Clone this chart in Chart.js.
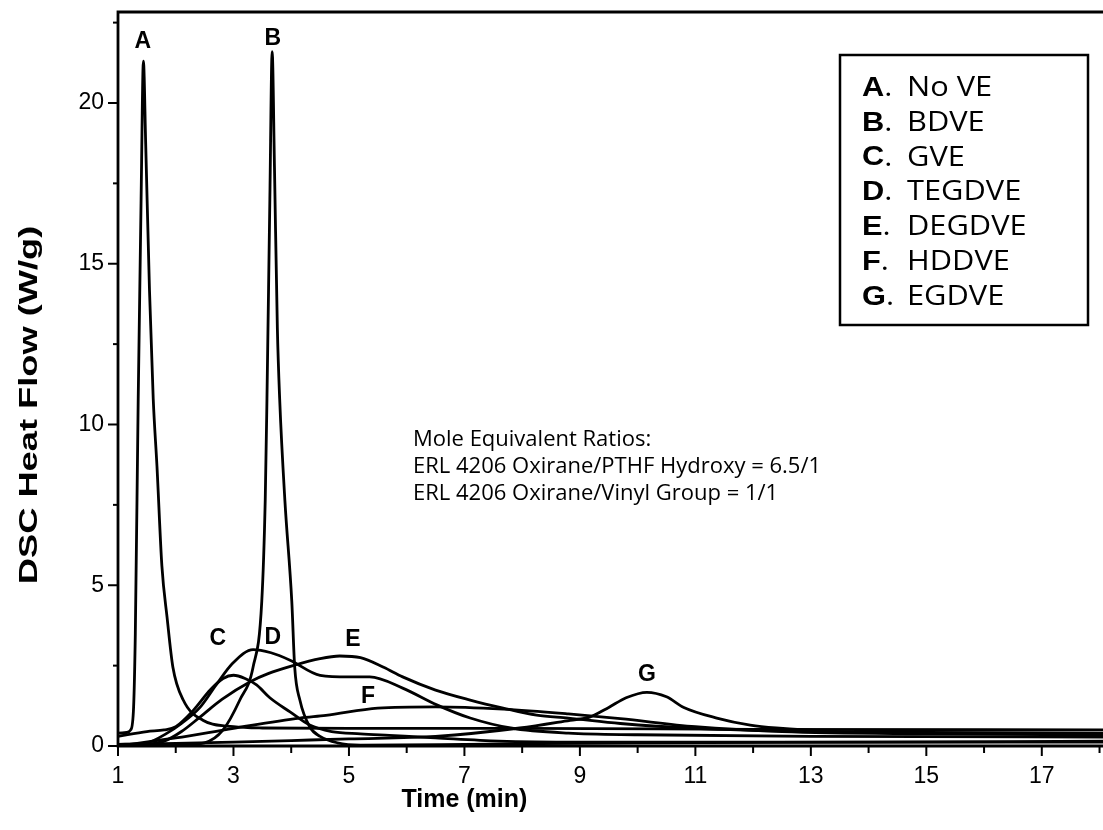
<!DOCTYPE html>
<html>
<head>
<meta charset="utf-8">
<script src="https://cdn.jsdelivr.net/npm/chart.js@4.4.1/dist/chart.umd.min.js"></script>
<style>
  html, body { margin: 0; padding: 0; background: #fff; overflow: hidden; }
  #wrap { width: 1103px; height: 830px; position: relative; }
</style>
</head>
<body>
<div id="wrap"><canvas id="dsc"></canvas></div>
<script>
// time (min) / heat flow (W/g), one pair per curve
const timeA = [1.0, 1.15, 1.22, 1.27, 1.30, 1.35, 1.40, 1.44, 1.48, 1.545, 1.61, 1.675, 1.76, 1.85, 1.95, 2.13, 2.47, 3.0, 3.5, 5, 8, 12, 18.1];
const flowA = [0.4, 0.42, 0.5, 1.2, 3.5, 10.8, 17, 21.3, 18.7, 14.2, 10.8, 8.7, 5.6, 4.0, 2.46, 1.43, 0.8, 0.6, 0.56, 0.55, 0.55, 0.52, 0.5];

const timeB = [1.0, 2.0, 2.5, 2.82, 3.11, 3.34, 3.49, 3.55, 3.58, 3.63, 3.67, 3.71, 3.76, 3.8, 3.89, 4.01, 4.06, 4.15, 4.32, 4.5, 4.8, 5.2, 7, 10, 14, 18.1];
const flowB = [0, 0.02, 0.1, 0.5, 1.43, 2.46, 4.5, 7.65, 10.8, 17, 21.6, 18, 13, 10.8, 7.65, 4.5, 2.46, 1.43, 0.6, 0.3, 0.1, 0.03, 0.05, 0.1, 0.12, 0.15];

const timeC = [1.0, 1.5, 1.8, 2.0, 2.3, 2.6, 2.82, 3.0, 3.2, 3.4, 3.63, 3.98, 4.32, 4.7, 5.2, 5.7, 6.5, 7.6, 9, 12, 18.1];
const flowC = [0.3, 0.45, 0.5, 0.6, 1.1, 1.75, 2.1, 2.2, 2.1, 1.9, 1.5, 1.06, 0.65, 0.45, 0.38, 0.33, 0.25, 0.15, 0.12, 0.12, 0.12];

const timeD = [1.0, 1.5, 1.85, 2.1, 2.42, 2.7, 2.99, 3.34, 3.65, 3.98, 4.5, 5.0, 5.36, 5.93, 6.52, 7.1, 7.8, 8.8, 10, 13, 18.1];
const flowD = [0.05, 0.1, 0.4, 0.7, 1.2, 1.9, 2.58, 3.0, 2.9, 2.67, 2.2, 2.15, 2.15, 1.8, 1.28, 0.87, 0.56, 0.4, 0.35, 0.3, 0.28];

const timeE = [1.0, 1.5, 1.8, 2.1, 2.42, 2.8, 3.29, 3.6, 4.03, 4.5, 4.84, 5.2, 5.6, 5.93, 6.5, 7.1, 7.67, 8.25, 8.8, 9.7, 11, 13, 15, 18.1];
const flowE = [0, 0.05, 0.15, 0.45, 0.9, 1.45, 2.0, 2.25, 2.5, 2.72, 2.8, 2.75, 2.45, 2.15, 1.74, 1.43, 1.18, 0.96, 0.87, 0.7, 0.55, 0.45, 0.42, 0.4];

const timeF = [1.0, 2.0, 3.0, 4.15, 4.6, 5.5, 6.5, 7.67, 8.8, 9.7, 11, 12.5, 15, 18.1];
const flowF = [0, 0.25, 0.55, 0.87, 0.95, 1.18, 1.22, 1.15, 1.0, 0.85, 0.6, 0.45, 0.38, 0.35];

const timeG = [1.0, 2.0, 3.0, 4.0, 5.0, 6.5, 7.96, 8.83, 9.17, 9.5, 9.8, 10.16, 10.5, 10.8, 11.37, 11.95, 12.4, 13.5, 15, 18.1];
const flowG = [0.05, 0.08, 0.12, 0.17, 0.22, 0.3, 0.56, 0.8, 0.9, 1.2, 1.5, 1.67, 1.53, 1.2, 0.87, 0.65, 0.56, 0.45, 0.4, 0.38];

const seriesKeys = ['A', 'B', 'C', 'D', 'E', 'F', 'G'];
const seriesNames = ['No VE', 'BDVE', 'GVE', 'TEGDVE', 'DEGDVE', 'HDDVE', 'EGDVE'];
const seriesTimes = [timeA, timeB, timeC, timeD, timeE, timeF, timeG];
const seriesFlows = [flowA, flowB, flowC, flowD, flowE, flowF, flowG];

// where the curve letters sit, in axis units
const peakTagTime = [1.43, 3.68, 2.73, 3.68, 5.07, 5.33, 10.16];
const peakTagFlow = [21.9, 22.0, 3.33, 3.36, 3.30, 1.52, 2.21];

const xTicks = [1, 3, 5, 7, 9, 11, 13, 15, 17];
const yTicks = [0, 5, 10, 15, 20];

const noteLines = [
  'Mole Equivalent Ratios:',
  'ERL 4206 Oxirane/PTHF Hydroxy = 6.5/1',
  'ERL 4206 Oxirane/Vinyl Group = 1/1'
];

const datasets = seriesKeys.map((k, i) => ({
  label: seriesNames[i],
  data: seriesTimes[i].map((t, j) => ({ x: t, y: seriesFlows[i][j] })),
  borderColor: '#000',
  borderWidth: 2.8,
  pointRadius: 0,
  fill: false,
  cubicInterpolationMode: 'monotone'
}));

const decor = {
  id: 'decor',
  afterDraw(chart) {
    const { ctx, chartArea: a, scales: { x, y } } = chart;
    ctx.save();
    ctx.strokeStyle = '#000';
    ctx.fillStyle = '#000';

    // frame (top + left + bottom; right side runs off the page)
    ctx.lineWidth = 2.8;
    ctx.beginPath();
    ctx.moveTo(a.right + 2, a.top);
    ctx.lineTo(a.left, a.top);
    ctx.lineTo(a.left, a.bottom);
    ctx.lineTo(a.right + 2, a.bottom);
    ctx.stroke();

    // tick marks
    ctx.lineWidth = 2;
    for (let v = 0; v <= 22.5; v += 2.5) {
      const py = y.getPixelForValue(v);
      const len = v % 5 === 0 ? 10 : 5;
      ctx.beginPath(); ctx.moveTo(a.left - len, py); ctx.lineTo(a.left, py); ctx.stroke();
    }
    for (let v = 1; v <= 18; v += 1) {
      const px = x.getPixelForValue(v);
      const len = v % 2 === 1 ? 10 : 7;
      ctx.beginPath(); ctx.moveTo(px, a.bottom); ctx.lineTo(px, a.bottom + len); ctx.stroke();
    }

    // axis titles
    ctx.font = 'bold 25px "Liberation Sans", Arial, sans-serif';
    ctx.textAlign = 'center';
    ctx.textBaseline = 'middle';
    ctx.fillText('Time (min)', x.getPixelForValue(7), 800);
    ctx.save();
    ctx.translate(30, 405);
    ctx.rotate(-Math.PI / 2);
    ctx.scale(1.45, 1);
    ctx.fillText('DSC Heat Flow (W/g)', 0, 0);
    ctx.restore();

    // curve letters
    ctx.font = 'bold 23px "Liberation Sans", Arial, sans-serif';
    seriesKeys.forEach((k, i) => {
      ctx.fillText(k, x.getPixelForValue(peakTagTime[i]), y.getPixelForValue(peakTagFlow[i]));
    });

    // legend box
    ctx.lineWidth = 2.5;
    ctx.fillStyle = '#fff';
    ctx.fillRect(840, 55, 248, 270);
    ctx.strokeRect(840, 55, 248, 270);
    ctx.fillStyle = '#000';
    ctx.textAlign = 'left';
    seriesKeys.forEach((k, i) => {
      const ty = 88 + i * 34.8;
      ctx.save();
      ctx.translate(862, ty);
      ctx.scale(1.1, 1);
      ctx.font = 'bold 28px "Liberation Sans", Arial, sans-serif';
      ctx.fillText(k, 0, 0);
      const w = ctx.measureText(k).width;
      ctx.font = '28px "Open Sans", sans-serif';
      ctx.fillText('.', w, 0);
      ctx.restore();
      ctx.save();
      ctx.translate(907, ty);
      ctx.scale(1.1, 1);
      ctx.font = '28px "Open Sans", sans-serif';
      ctx.fillText(seriesNames[i], 0, 0);
      ctx.restore();
    });

    // note
    ctx.font = '22px "Open Sans", sans-serif';
    noteLines.forEach((s, i) => ctx.fillText(s, 413, 440 + i * 27));
    ctx.restore();
  }
};

new Chart(document.getElementById('dsc'), {
  type: 'line',
  data: { datasets },
  plugins: [decor],
  options: {
    responsive: true,
    maintainAspectRatio: false,
    animation: false,
    layout: { padding: { top: 12, right: 0, left: 0, bottom: 0 } },
    plugins: { legend: { display: false }, tooltip: { enabled: false } },
    scales: {
      x: {
        type: 'linear',
        min: 1,
        max: 18.06,
        afterFit: s => { s.height = 84; s.paddingLeft = 0; s.paddingRight = 0; },
        afterBuildTicks: s => { s.ticks = xTicks.map(v => ({ value: v })); },
        grid: { display: false, drawTicks: false },
        border: { display: false },
        ticks: {
          padding: 17,
          color: '#000',
          font: { family: '"Liberation Sans", Arial, sans-serif', size: 23 },
          maxRotation: 0,
          autoSkip: false
        }
      },
      y: {
        type: 'linear',
        min: 0,
        max: 22.83,
        afterFit: s => { s.width = 118; s.paddingTop = 0; s.paddingBottom = 0; },
        afterBuildTicks: s => { s.ticks = yTicks.map(v => ({ value: v })); },
        grid: { display: false, drawTicks: false },
        border: { display: false },
        ticks: {
          padding: 14,
          color: '#000',
          font: { family: '"Liberation Sans", Arial, sans-serif', size: 23 }
        }
      }
    }
  }
});
</script>
</body>
</html>
